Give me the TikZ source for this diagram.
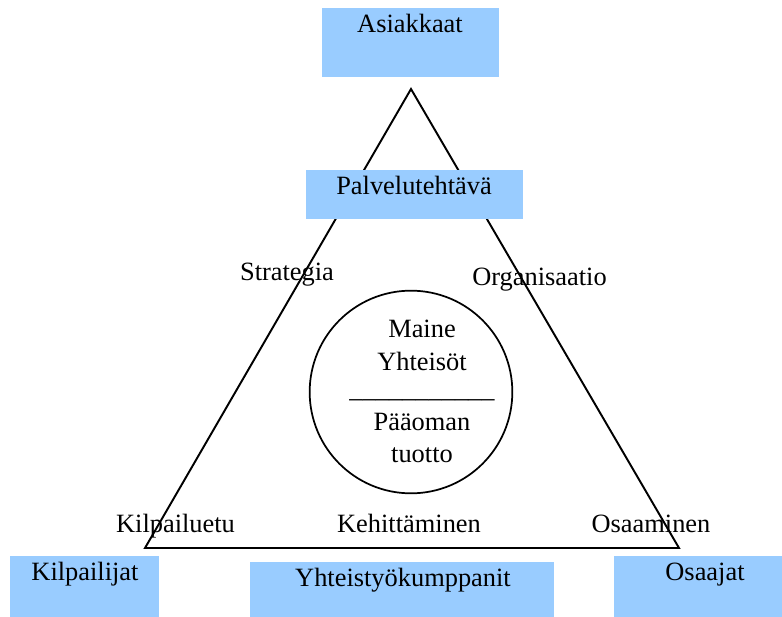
\documentclass[tikz,border=0pt]{standalone}
\usepackage{fontspec}
\setmainfont{Liberation Serif}
\definecolor{boxblue}{HTML}{99CCFF}
\begin{document}
\begin{tikzpicture}[x=0.75pt,y=-0.75pt,
  every node/.style={font=\fontsize{19.8}{23}\selectfont, inner sep=0pt, outer sep=0pt},
  bluebox/.style={rectangle, fill=boxblue, draw=none},
  lbl/.style={anchor=base},
  edge/.style={line width=1.45pt, line join=miter}]
\useasboundingbox (0,0) rectangle (782,617);
% triangle
\coordinate (apex) at (411,89);
\coordinate (bl) at (145,548);
\coordinate (br) at (679,548);
\draw[edge] (apex) -- (br) -- (bl) -- cycle;
% circle
\node[circle, draw, line width=1.3pt, minimum size=152pt] (circ) at (411,392) {};
% boxes
\node[bluebox, minimum width=132.75pt, minimum height=51.75pt] (asbox) at (410.5,42.5) {};
\node[bluebox, minimum width=162.75pt, minimum height=36.75pt] (pvbox) at (414.5,194.5) {};
\node[bluebox, minimum width=111.75pt, minimum height=45.75pt] (kjbox) at (84.5,586.5) {};
\node[bluebox, minimum width=228pt, minimum height=41.25pt] (ykbox) at (402,589.5) {};
\node[bluebox, minimum width=126pt, minimum height=45.75pt] (osbox) at (698,586.5) {};
% box texts
\node[lbl] (asiakkaat) at (410,33) {Asiakkaat};
\node[lbl] (palvelu) at (414,194) {Palvelutehtävä};
\node[lbl] (kilpailijat) at (85,580) {Kilpailijat};
\node[lbl] (yhteistyo) at (403,586) {Yhteistyökumppanit};
\node[lbl] (osaajat) at (705,580) {Osaajat};
% triangle labels
\node[lbl] (strategia) at (287,280) {Strategia};
\node[lbl] (organisaatio) at (539.5,285) {Organisaatio};
\node[lbl] (kilpailuetu) at (175.5,532) {Kilpailuetu};
\node[lbl] (kehittaminen) at (409,532) {Kehittäminen};
\node[lbl] (osaaminen) at (651,532) {Osaaminen};
% circle text
\node[lbl] (maine) at (422,337) {Maine};
\node[lbl] (yhteisot) at (422,370) {Yhteisöt};
\node[lbl] (viiva) at (422,397) {\_\_\_\_\_\_\_\_\_\_\_};
\node[lbl] (paaoman) at (422,430) {Pääoman};
\node[lbl] (tuotto) at (422,462) {tuotto};
\end{tikzpicture}
\end{document}
